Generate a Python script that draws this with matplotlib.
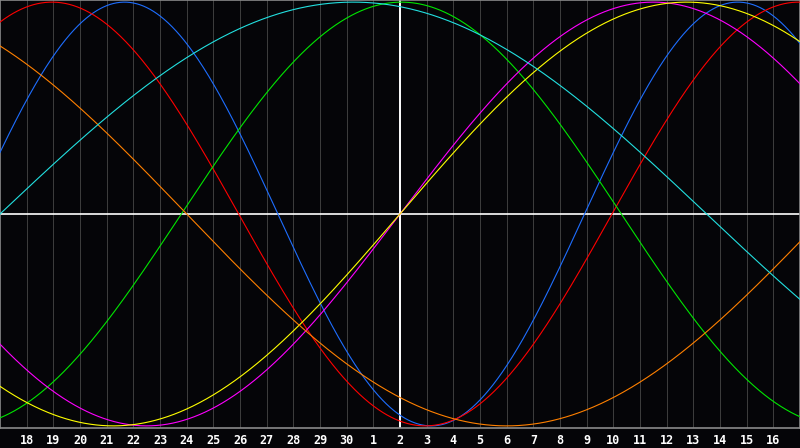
import numpy as np
import matplotlib
matplotlib.use("Agg")
import matplotlib.pyplot as plt

# biorhythm cycles: period (days) and the chart day where each curve crosses zero going up
cycles = ["physical", "emotional", "intellectual", "intuitive", "aesthetic", "awareness", "spiritual"]
periods = [23, 28, 33, 38, 43, 48, 53]
zero_day = [-1.08, -5.05, 6.8, 15.0, 15.0, 31.0, 0.0]
colors = ["#1e6eff", "#ff0000", "#00e600", "#ff00ff", "#ffff00", "#ff8000", "#22e0e0"]

# day labels along the bottom (one per grid line)
day_labels = [18, 19, 20, 21, 22, 23, 24, 25, 26, 27, 28, 29, 30,
              1, 2, 3, 4, 5, 6, 7, 8, 9, 10, 11, 12, 13, 14, 15, 16]
today_index = 15  # position of the white vertical line (day 2)
n_days = 30

W, H = 800, 448
plot_h = 428

fig = plt.figure(figsize=(W / 100, H / 100), dpi=100)
fig.patch.set_facecolor("#050508")
ax = fig.add_axes([0, (H - plot_h) / H, 1, plot_h / H])
ax.set_facecolor("#050508")

ticks = np.arange(1, n_days)
for t in ticks:
    ax.axvline(t, color="#3c3c3c", lw=0.5, antialiased=False, zorder=1)

ax.axhline(0, color="white", lw=1.2, zorder=2)
ax.axvline(today_index, color="white", lw=1.4, zorder=2)

t = np.linspace(0, n_days, 1200)
for name, p, z, c in zip(cycles, periods, zero_day, colors):
    ax.plot(t, np.sin(2 * np.pi * (t - z) / p), color=c, lw=0.8, zorder=3, label=name)

ax.set_xlim(0, n_days)
ax.set_ylim(-1.01, 1.01)
ax.set_yticks([])
ax.set_xticks(ticks)
ax.set_xticklabels([str(d) for d in day_labels], color="white",
                   fontfamily="DejaVu Sans Mono", fontweight="bold", fontsize=8.5)
ax.tick_params(axis="x", length=0, pad=4)
for s in ax.spines.values():
    s.set_color("#8a8a8a")
    s.set_linewidth(1.2)

fig.savefig("out.png", dpi=100, facecolor=fig.get_facecolor())
